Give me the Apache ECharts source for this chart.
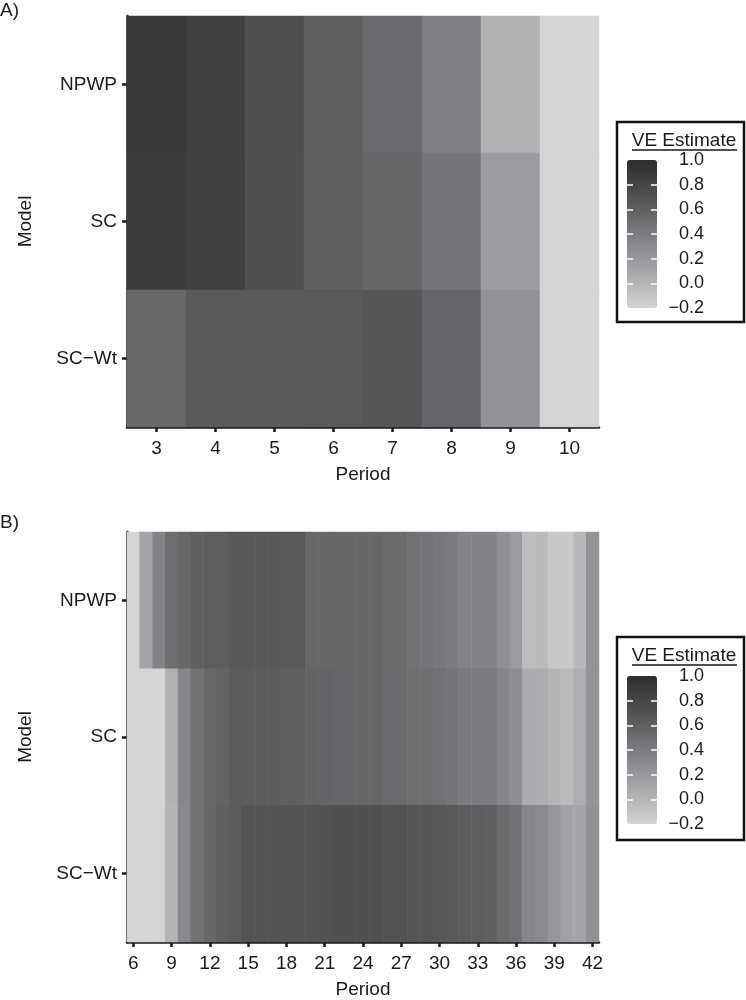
<!DOCTYPE html>
<html><head><meta charset="utf-8">
<script src="https://cdn.jsdelivr.net/npm/echarts@6/dist/echarts.min.js"></script>
<style>html,body{margin:0;padding:0;background:#fff}#c{width:746px;height:1000px}</style>
</head><body><div id="c"></div>
<script>
// ---------- data ----------
const models = ['NPWP', 'SC', 'SC\u2212Wt'];

const periodsA = ['3','4','5','6','7','8','9','10'];
const npwpA = [0.90, 0.85, 0.73, 0.61, 0.53, 0.38, 0.03, -0.2];
const scA   = [0.87, 0.84, 0.72, 0.59, 0.55, 0.45, 0.17, -0.2];
const scwtA = [0.54, 0.645, 0.645, 0.65, 0.675, 0.56, 0.23, -0.2];

const periodsB = ['6','7','8','9','10','11','12','13','14','15','16','17','18','19','20','21','22','23','24',
  '25','26','27','28','29','30','31','32','33','34','35','36','37','38','39','40','41','42'];
const npwpB = [-0.2, 0.11, 0.35, 0.50, 0.54, 0.60, 0.62, 0.62, 0.66, 0.66, 0.66, 0.66, 0.65, 0.65,
  0.55, 0.55, 0.55, 0.55, 0.55, 0.55, 0.52, 0.52, 0.47, 0.46, 0.43, 0.40, 0.35, 0.35, 0.35,
  0.26, 0.17, -0.05, -0.03, -0.12, -0.13, -0.02, 0.23];
const scB = [-0.2, -0.2, -0.2, 0.03, 0.32, 0.47, 0.54, 0.57, 0.63, 0.63, 0.63, 0.63, 0.61, 0.61,
  0.57, 0.57, 0.56, 0.55, 0.55, 0.55, 0.53, 0.52, 0.50, 0.50, 0.48, 0.45, 0.41, 0.41, 0.41,
  0.33, 0.27, 0.07, 0.06, 0.00, -0.04, 0.05, 0.23];
const scwtB = [-0.2, -0.2, -0.2, 0.00, 0.31, 0.47, 0.55, 0.60, 0.64, 0.69, 0.69, 0.69, 0.69, 0.69,
  0.69, 0.71, 0.72, 0.72, 0.72, 0.72, 0.70, 0.70, 0.68, 0.68, 0.67, 0.65, 0.63, 0.62, 0.60,
  0.52, 0.47, 0.33, 0.30, 0.21, 0.13, 0.11, 0.25];

const legendTicks = [-0.2, 0.0, 0.2, 0.4, 0.6, 0.8, 1.0];
const innerTicks = [0.0, 0.2, 0.4, 0.6, 0.8];
const scaleMin = -0.2, scaleMax = 1.0, scaleStep = 0.2;
const grays = ['#d3d4d6', '#b4b5b7', '#97989b', '#7b7c7f', '#606063', '#464648', '#2d2d2f'];

// ---------- build ----------
function cells(rows) {
  const out = [];
  rows.forEach((row, yi) => row.forEach((v, xi) => out.push([xi, yi, v])));
  return out;
}
const dataA = cells([npwpA, scA, scwtA]);
const dataB = cells([npwpB, scB, scwtB]);

const FONT = 'Liberation Sans, Arial, sans-serif';
const TXT = '#1a1a1a';
const axisLine = {show: true, lineStyle: {color: '#1a1a1a', width: 2.5}};
const axisTick = {show: true, length: 5, lineStyle: {color: '#1a1a1a', width: 2.5}, alignWithLabel: true};
const lbl = {fontSize: 19, color: TXT, fontFamily: FONT};

function catX(grid, data, everyN) {
  const o = {
    type: 'category', gridIndex: grid, data: data,
    axisLine: axisLine, splitLine: {show: false},
    axisTick: Object.assign({}, axisTick),
    axisLabel: Object.assign({margin: 12}, lbl),
    name: 'Period', nameLocation: 'middle', nameGap: 38,
    nameTextStyle: {fontSize: 19, color: TXT, fontFamily: FONT}
  };
  if (everyN) {
    const f = (i) => i % everyN === 0;
    o.axisLabel.interval = f;
    o.axisTick.interval = f;
  }
  return o;
}
function catY(grid) {
  return {
    type: 'category', gridIndex: grid, data: models, inverse: true,
    axisLine: axisLine, splitLine: {show: false},
    axisTick: Object.assign({}, axisTick),
    axisLabel: Object.assign({margin: 10}, lbl),
    name: 'Model', nameLocation: 'middle', nameGap: 92, nameRotate: 90,
    nameTextStyle: {fontSize: 19, color: TXT, fontFamily: FONT}
  };
}
function barX(grid) {
  return {type: 'value', gridIndex: grid, show: false, min: 0, max: 1};
}
// kind: 'labels' | 'tickIn' (left edge, ticks inside) | 'tickOut' (grid sits at bar's right edge)
function barY(grid, kind) {
  const o = {
    type: 'value', gridIndex: grid, position: kind === 'labels' ? 'right' : 'left', z: 20,
    min: scaleMin, max: scaleMax, interval: scaleStep,
    axisLine: {show: false}, splitLine: {show: false},
    axisTick: {show: kind !== 'labels', inside: kind === 'tickIn', length: 6,
               lineStyle: {color: '#ffffff', width: 1.5}, customValues: innerTicks},
    axisLabel: {show: false}
  };
  if (kind === 'labels') {
    o.axisLabel = {
      show: true, align: 'right', margin: 47, fontSize: 18, color: TXT, fontFamily: FONT,
      customValues: legendTicks,
      formatter: (v) => Number(v).toFixed(1).replace('-', '\u2212')
    };
  }
  return o;
}

const boxA = {top: 122, h: 200};
const boxB = {top: 637, h: 203};
function legendGraphics(b) {
  return [
    {type: 'rect', shape: {x: 617, y: b.top, width: 127, height: b.h},
     style: {fill: 'none', stroke: '#111', lineWidth: 2.5}, z: 10},
    {type: 'text', x: 684, y: b.top + 19,
     style: {text: 'VE Estimate', fontSize: 19, fontFamily: FONT, fill: TXT,
             textAlign: 'center', textVerticalAlign: 'middle'}, z: 10},
    {type: 'line', shape: {x1: 632, y1: b.top + 28, x2: 737, y2: b.top + 28},
     style: {stroke: TXT, lineWidth: 1.5}, z: 10}
  ];
}

const barLeft = 627, barW = 30, barTopA = 160, barTopB = 676, barH = 148;
function barGrid(left, top) {
  return {left: left, top: top, width: barW, height: barH, z: 20};
}

const option = {
  animation: false,
  backgroundColor: '#fff',
  textStyle: {fontFamily: FONT},
  grid: [
    {left: 127, top: 16, width: 472, height: 411},
    {left: 127, top: 532, width: 472, height: 412},
    barGrid(barLeft, barTopA), barGrid(barLeft, barTopA), barGrid(barLeft + barW, barTopA),
    barGrid(barLeft, barTopB), barGrid(barLeft, barTopB), barGrid(barLeft + barW, barTopB)
  ],
  xAxis: [catX(0, periodsA, 0), catX(1, periodsB, 3),
          barX(2), barX(3), barX(4), barX(5), barX(6), barX(7)],
  yAxis: [catY(0), catY(1),
          barY(2, 'labels'), barY(3, 'tickIn'), barY(4, 'tickOut'),
          barY(5, 'labels'), barY(6, 'tickIn'), barY(7, 'tickOut')],
  visualMap: [
    {type: 'continuous', seriesIndex: 0, min: scaleMin, max: scaleMax, calculable: false,
     inRange: {color: grays}, left: barLeft, top: barTopA, itemWidth: barW, itemHeight: barH,
     padding: 0, text: null, hoverLink: false, orient: 'vertical', z: 1},
    {type: 'continuous', seriesIndex: 1, min: scaleMin, max: scaleMax, calculable: false,
     inRange: {color: grays}, left: barLeft, top: barTopB, itemWidth: barW, itemHeight: barH,
     padding: 0, text: null, hoverLink: false, orient: 'vertical', z: 1}
  ],
  series: [
    {type: 'heatmap', xAxisIndex: 0, yAxisIndex: 0, data: dataA, emphasis: {disabled: true}},
    {type: 'heatmap', xAxisIndex: 1, yAxisIndex: 1, data: dataB, emphasis: {disabled: true}}
  ],
  graphic: [
    {type: 'text', x: 0, y: 1, style: {text: 'A)', fontSize: 19, fontFamily: FONT, fill: TXT}},
    {type: 'text', x: 0, y: 513, style: {text: 'B)', fontSize: 19, fontFamily: FONT, fill: TXT}}
  ].concat(legendGraphics(boxA), legendGraphics(boxB))
};

const chart = echarts.init(document.getElementById('c'), null, {renderer: 'canvas'});
chart.setOption(option);
</script>
</body></html>
